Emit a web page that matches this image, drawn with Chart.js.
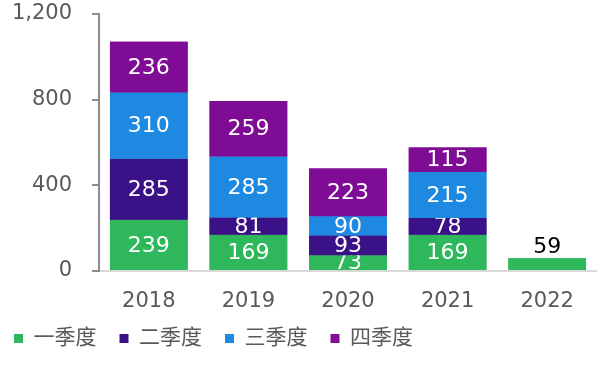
<!DOCTYPE html>
<html>
<head>
<meta charset="utf-8">
<script src="https://cdn.jsdelivr.net/npm/chart.js@4/dist/chart.umd.min.js"></script>
<style>
html,body{margin:0;padding:0;background:#fff;}
canvas{display:block;}
</style>
</head>
<body>
<canvas id="c" width="597" height="379"></canvas>
<script>
const categories = ['2018', '2019', '2020', '2021', '2022'];
const seriesNames = ['一季度', '二季度', '三季度', '四季度'];
const q1 = [239, 169, 73, 169, 59];
const q2 = [285, 81, 93, 78, null];
const q3 = [310, 285, 90, 215, null];
const q4 = [236, 259, 223, 115, null];
const yTicks = [0, 400, 800, 1200];

const colors = ['#2EB85B', '#3A1186', '#1E89E0', '#7F0C94'];
const numFont = "'DejaVu Sans', 'Noto Sans CJK SC', sans-serif";

const labelPlugin = {
  id: 'segLabels',
  afterLayout(chart) {
    if (chart.legend) {
      chart.legend.top -= 10;
      chart.legend.bottom -= 10;
    }
  },
  afterDatasetsDraw(chart) {
    const ctx = chart.ctx;
    const n = chart.data.datasets.length;
    for (let i = 0; i < n; i++) {
      const meta = chart.getDatasetMeta(i);
      meta.data.forEach(bar => bar.draw(ctx));
      ctx.save();
      ctx.font = "22px " + numFont;
      ctx.textAlign = 'center';
      ctx.textBaseline = 'middle';
      meta.data.forEach((bar, j) => {
        const v = chart.data.datasets[i].data[j];
        if (v === null || v === undefined) return;
        const p = bar.getProps(['x', 'y', 'base'], true);
        let above = true;
        for (let k = i + 1; k < n; k++) {
          if (chart.data.datasets[k].data[j]) above = false;
        }
        if (above && i === 0) {
          ctx.fillStyle = '#000000';
          ctx.fillText(String(v), p.x, p.y - 11);
        } else {
          ctx.fillStyle = '#ffffff';
          ctx.fillText(String(v), p.x, (p.y + p.base) / 2 + 1);
        }
      });
      ctx.restore();
    }
  }
};

new Chart(document.getElementById('c'), {
  type: 'bar',
  data: {
    labels: categories,
    datasets: [q1, q2, q3, q4].map((d, i) => ({
      label: seriesNames[i],
      data: d,
      backgroundColor: colors[i],
      borderWidth: 0,
      categoryPercentage: 0.78,
      barPercentage: 1.0
    }))
  },
  options: {
    responsive: false,
    devicePixelRatio: 1,
    animation: false,
    layout: { padding: { left: -9, right: 0, top: 14, bottom: 10 } },
    plugins: {
      legend: {
        position: 'bottom',
        align: 'start',
        labels: {
          boxWidth: 9,
          boxHeight: 9,
          padding: 23,
          color: '#595959',
          font: { family: numFont, size: 21 }
        }
      },
      tooltip: { enabled: false }
    },
    scales: {
      x: {
        stacked: true,
        afterFit(scale) { scale.height = 44; },
        grid: { display: false, drawTicks: false },
        border: { display: true, color: '#D9D9D9', width: 2 },
        ticks: { color: '#595959', padding: 18, font: { family: numFont, size: 21 } }
      },
      y: {
        stacked: true,
        min: 0,
        max: 1200,
        afterFit(scale) { scale.width = 108; scale.paddingTop = 12; scale.paddingBottom = 12; },
        afterBuildTicks(scale) { scale.ticks = yTicks.map(v => ({ value: v })); },
        grid: { drawOnChartArea: false, drawTicks: true, tickLength: 7, color: '#8C8C8C', lineWidth: 2 },
        border: { display: true, color: '#8C8C8C', width: 2 },
        ticks: {
          color: '#595959',
          padding: 20,
          font: { family: numFont, size: 21 },
          callback: v => Number(v).toLocaleString('en-US')
        }
      }
    }
  },
  plugins: [labelPlugin]
});
</script>
</body>
</html>
